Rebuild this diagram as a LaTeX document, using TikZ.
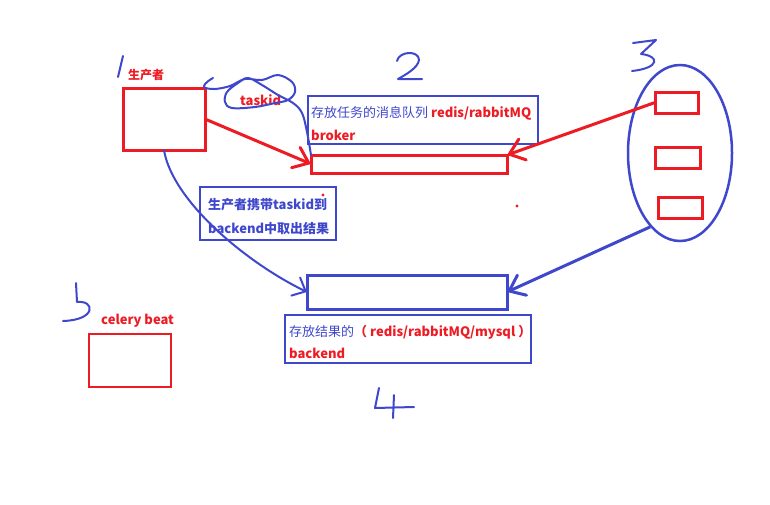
\documentclass[tikz,border=0pt]{standalone}
\usepackage{fontspec}
\setmainfont{Noto Sans CJK SC}
\usetikzlibrary{arrows.meta,shapes.geometric}
\definecolor{pred}{HTML}{ED1C24}
\definecolor{pblue}{HTML}{3F48CC}
\tikzset{
  redbox/.style={draw=pred,line width=3pt,inner sep=0pt,outer sep=0pt},
  bluebox/.style={draw=pblue,line width=3pt,inner sep=0pt,outer sep=0pt},
  lblbox/.style={draw=pblue,line width=1.8pt,inner sep=0pt,outer sep=0pt},
  hand/.style={draw=pblue,line width=2pt,line cap=round,line join=round},
  txt/.style={inner sep=0pt,anchor=base west,font=\fontsize{13}{15}\selectfont},
  rt/.style={text=pred,font=\bfseries\fontsize{13}{15}\selectfont},
  barb/.style={-{Straight Barb[length=14pt,width=22pt,line cap=round]}},
}
\newcommand{\rb}[1]{\textcolor{pred}{\bfseries #1}}
\begin{document}
\begin{tikzpicture}[x=1pt,y=-1pt]
\useasboundingbox (0,0) rectangle (770,504);
\fill[white] (0,0) rectangle (770,504);

% boxes
\node[redbox,minimum width=82pt,minimum height=62pt] (prod) at (164,119) {};
\node[redbox,minimum width=196pt,minimum height=18pt] (broker) at (409,164) {};
\node[bluebox,minimum width=200pt,minimum height=34pt] (backend) at (407,292) {};
\node[redbox,line width=2pt,minimum width=82pt,minimum height=53pt] (beat) at (130,360.5) {};
\node[draw=pblue,line width=2.5pt,ellipse,minimum width=104pt,minimum height=176pt,inner sep=0pt] (ell) at (680,153) {};
\node[redbox,minimum width=43pt,minimum height=21pt] (w1) at (676.5,102.5) {};
\node[redbox,minimum width=45pt,minimum height=21pt] (w2) at (677.5,157.5) {};
\node[redbox,minimum width=44pt,minimum height=21pt] (w3) at (680,207.5) {};

% label boxes
\node[lblbox,minimum width=230pt,minimum height=48pt] (brokerlbl) at (423,120) {};
\node[lblbox,minimum width=136pt,minimum height=53pt] (fetchlbl) at (268,213.5) {};
\node[lblbox,minimum width=246pt,minimum height=48pt] (backendlbl) at (408,339) {};

% texts
\node[txt,rt,font=\bfseries\fontsize{12}{14}\selectfont] (prodt) at (128,79) {生产者};
\node[txt,rt] (taskidt) at (240,105) {taskid};
\node[txt,rt] (beatt) at (101,324) {celery beat};
\node[txt,text=pblue] (bl1) at (311,117) {存放任务的消息队列 \rb{redis/rabbitMQ}};
\node[txt,rt] (bl2) at (311,140) {broker};
\node[txt,text=pblue,font=\bfseries\fontsize{13}{15}\selectfont] (fl1) at (208,209) {生产者携带taskid到};
\node[txt,text=pblue,font=\bfseries\fontsize{13}{15}\selectfont] (fl2) at (208,233) {backend中取出结果};
\node[txt,text=pblue] (kl1) at (289,336) {存放结果的\rb{（ redis/rabbitMQ/mysql ）}};
\node[txt,rt] (kl2) at (289,358) {backend};

% red dots
\fill[pred] (323,195) circle (1.6pt);
\fill[pred] (517,206) circle (1.6pt);

% arrows
\draw[pred,line width=3pt,barb] (prod.east) -- (broker.west);
\draw[pred,line width=3pt,barb] (w1.west) -- (broker.north east);
\draw[pblue,line width=3pt,barb] (ell.248) -- (backend.east);
\draw[hand,-{Straight Barb[length=11pt,width=20pt,line cap=round]}] (prod.south) .. controls (172,200) and (245,262) .. (backend.west);

% taskid loop
\draw[hand] plot[smooth,tension=0.6] coordinates {(prod.north east) (215,89) (230,86) (245,79) (262,80) (278,75) (292,82) (295,92) (288,100) (275,103) (255,107) (232,108) (225,102) (227,92) (238,83) (248,78) (262,85) (278,95) (293,103) (302,113) (307,132) (broker.north west)};
\draw[hand] (213,78) .. controls (206,82) and (202,86) .. (prod.north east);

% hand-drawn numbers
\draw[hand] (123,56) -- (118,77);
\draw[hand] (397,61) .. controls (399,51) and (419,50) .. (419,60) .. controls (418,68) and (405,75) .. (398,79) -- (422,79);
\draw[hand] (633,43) -- (656,40) -- (641,54) .. controls (660,56) and (660,68) .. (632,71);
\draw[hand] (379,388) -- (375,408) -- (414,407);
\draw[hand] (394,395) -- (393,418);
\draw[hand] (76,283) -- (77,302) .. controls (95,300) and (97,320) .. (63,321);
\end{tikzpicture}
\end{document}
